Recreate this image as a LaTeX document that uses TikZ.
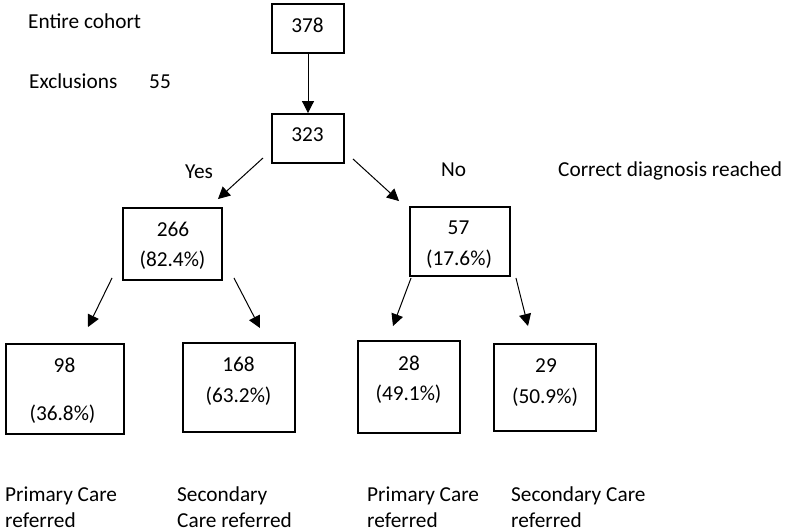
\documentclass[tikz,border=0pt]{standalone}
\usepackage{fontspec}
\setmainfont{Carlito}
\usetikzlibrary{arrows.meta,calc}
\begin{document}
\begin{tikzpicture}[x=1bp,y=-1bp,
  box/.style={draw=black,line width=1.9bp,inner sep=0pt},
  arr/.style={draw=black,line width=1bp,-{Triangle[length=12bp,width=12bp]}},
  txt/.style={inner sep=0pt,font=\fontsize{21.3bp}{26bp}\selectfont,text=black},
]
\useasboundingbox (0,0) rectangle (787,532);

% boxes
\node[box,minimum width=72bp,minimum height=49bp] (n378) at (308,28.5) {};
\node[box,minimum width=72bp,minimum height=49bp] (n323) at (308,138.5) {};
\node[box,minimum width=99bp,minimum height=72bp] (n266) at (172.5,244) {};
\node[box,minimum width=100bp,minimum height=69bp] (n57) at (460,241.5) {};
\node[box,minimum width=118bp,minimum height=90bp] (n98) at (65,389) {};
\node[box,minimum width=112bp,minimum height=89bp] (n168) at (239,387.5) {};
\node[box,minimum width=102bp,minimum height=92bp] (n28) at (409,387) {};
\node[box,minimum width=102bp,minimum height=87bp] (n29) at (545,387.5) {};

% box texts
\node[txt,anchor=base] (t378) at (307.5,33) {378};
\node[txt,anchor=base] (t323) at (307.5,142) {323};
\node[txt,anchor=base] (t266a) at (173,237) {266};
\node[txt,anchor=base] (t266b) at (172.5,267) {(82.4\%)};
\node[txt,anchor=base] (t57a) at (458.5,235) {57};
\node[txt,anchor=base] (t57b) at (459,266) {(17.6\%)};
\node[txt,anchor=base] (t98a) at (64.5,372) {98};
\node[txt,anchor=base] (t98b) at (62.5,420) {(36.8\%)};
\node[txt,anchor=base] (t168a) at (238.5,371) {168};
\node[txt,anchor=base] (t168b) at (238.5,402) {(63.2\%)};
\node[txt,anchor=base] (t28a) at (409,370) {28};
\node[txt,anchor=base] (t28b) at (408.5,400) {(49.1\%)};
\node[txt,anchor=base] (t29a) at (546,372) {29};
\node[txt,anchor=base] (t29b) at (545,403) {(50.9\%)};

% free labels
\node[txt,anchor=base west] (lentire) at (28,29) {Entire cohort};
\node[txt,anchor=base west] (lexcl) at (29,89) {Exclusions};
\node[txt,anchor=base west] (l55) at (149,89) {55};
\node[txt,anchor=base west] (lyes) at (185,179) {Yes};
\node[txt,anchor=base west] (lno) at (441,177) {No};
\node[txt,anchor=base west] (lcorrect) at (558,177) {Correct diagnosis reached};

\node[txt,anchor=base west] (b1a) at (5,501) {Primary Care};
\node[txt,anchor=base west] (b1b) at (5,527) {referred};
\node[txt,anchor=base west] (b2a) at (177,501) {Secondary};
\node[txt,anchor=base west] (b2b) at (177,527) {Care referred};
\node[txt,anchor=base west] (b3a) at (367,501) {Primary Care};
\node[txt,anchor=base west] (b3b) at (367,527) {referred};
\node[txt,anchor=base west] (b4a) at (511,501) {Secondary Care};
\node[txt,anchor=base west] (b4b) at (511,527) {referred};

% connectors
\draw[arr] (n378.south) -- (n323.north);
\draw[arr] ($(n323.south west)+(-8,-6)$) -- ($(n266.north east)+(-5,-8)$);
\draw[arr] ($(n323.south east)+(8,-5)$) -- ($(n57.north west)+(-10,-5)$);
\draw[arr] ($(n266.south west)+(-10,-3)$) -- ($(n98.north)+(23,-16)$);
\draw[arr] ($(n266.south east)+(11,-3)$) -- ($(n168.north)+(21,-14)$);
\draw[arr] ($(n57.south west)+(2,1)$) -- ($(n28.north)+(-16,-14)$);
\draw[arr] ($(n57.south east)+(5,1)$) -- ($(n29.north)+(-17,-17)$);
\end{tikzpicture}
\end{document}
